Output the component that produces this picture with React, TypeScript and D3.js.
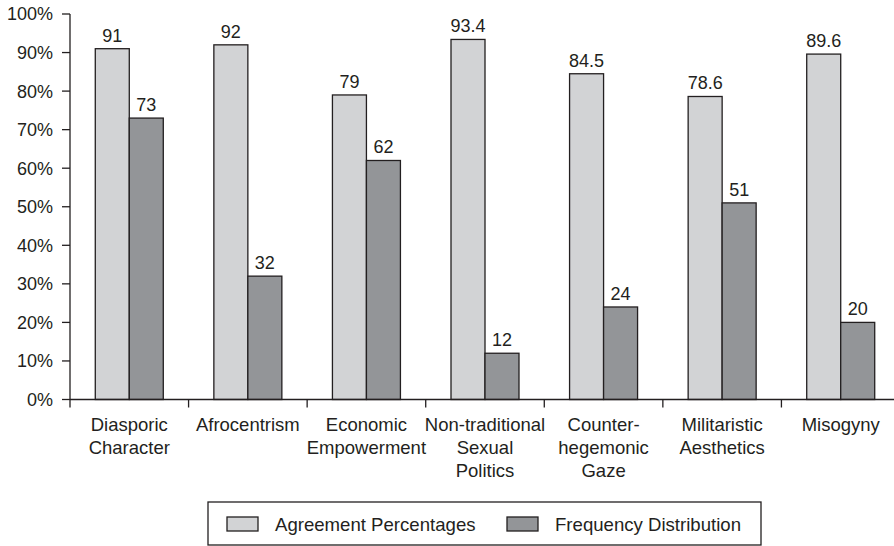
import React from 'react'
import * as d3 from 'd3'

const categories = [
  ['Diasporic', 'Character'],
  ['Afrocentrism'],
  ['Economic', 'Empowerment'],
  ['Non-traditional', 'Sexual', 'Politics'],
  ['Counter-', 'hegemonic', 'Gaze'],
  ['Militaristic', 'Aesthetics'],
  ['Misogyny'],
]
const agreement = ['91', '92', '79', '93.4', '84.5', '78.6', '89.6']
const frequency = ['73', '32', '62', '12', '24', '51', '20']
const seriesNames = ['Agreement Percentages', 'Frequency Distribution']
const seriesColors = ['#d2d3d5', '#939598']
const yTicks = [0, 10, 20, 30, 40, 50, 60, 70, 80, 90, 100]

const W = 894
const H = 546
const ink = '#231f20'
const font = '"Liberation Sans", Arial, Helvetica, sans-serif'

export default function App() {
  const keys = categories.map((c) => c.join(' '))
  const pad = 0.4265
  const x = d3.scaleBand<string>().domain(keys).range([70, 900]).paddingInner(pad).paddingOuter(pad / 2)
  const step = x.step()
  const xs = d3.scaleBand<number>().domain([0, 1]).range([0, x.bandwidth()])
  const y = d3.scaleLinear().domain([0, 100]).range([399.5, 14])

  const series = [agreement, frequency]

  return (
    <svg width={W} height={H} style={{ position: 'absolute', left: 0, top: 0, background: '#fff' }}
      fontFamily={font} fill={ink}>
      {/* y axis */}
      <line x1={70} x2={70} y1={y(100)} y2={y(0)} stroke={ink} strokeWidth={1.3} />
      {yTicks.map((t) => (
        <g key={t}>
          <line x1={62} x2={70} y1={y(t)} y2={y(t)} stroke={ink} strokeWidth={1.3} />
          <text x={53} y={y(t)} dy="0.36em" textAnchor="end" fontSize={18}>{t}%</text>
        </g>
      ))}

      {/* bars */}
      {keys.map((k, i) => (
        <g key={k} transform={`translate(${x(k)},0)`}>
          {series.map((s, j) => {
            const v = +s[i]
            return (
              <g key={j}>
                <rect x={xs(j)} y={y(v)} width={xs.bandwidth()} height={y(0) - y(v)}
                  fill={seriesColors[j]} stroke={ink} strokeWidth={1.3} />
                <text x={xs(j)! + xs.bandwidth() / 2} y={y(v) - 7} textAnchor="middle" fontSize={18}>{s[i]}</text>
              </g>
            )
          })}
        </g>
      ))}

      {/* x axis */}
      <line x1={70} x2={W} y1={y(0)} y2={y(0)} stroke={ink} strokeWidth={1.3} />
      {keys.map((k, i) => (
        <g key={k}>
          <line x1={x(k)! - (step * pad) / 2} x2={x(k)! - (step * pad) / 2} y1={y(0)} y2={y(0) + 8}
            stroke={ink} strokeWidth={1.3} />
          <text x={x(k)! + x.bandwidth() / 2} y={431} textAnchor="middle" fontSize={18.5}>
            {categories[i].map((line, li) => (
              <tspan key={li} x={x(k)! + x.bandwidth() / 2} dy={li === 0 ? 0 : 23}>{line}</tspan>
            ))}
          </text>
        </g>
      ))}

      {/* legend */}
      <rect x={208} y={502} width={553} height={43} fill="#fff" stroke={ink} strokeWidth={1.3} />
      {seriesNames.map((n, j) => {
        const lx = j === 0 ? 227 : 507
        return (
          <g key={n}>
            <rect x={lx} y={517} width={31} height={14} fill={seriesColors[j]} stroke={ink} strokeWidth={1.3} />
            <text x={lx + 48} y={524} dy="0.36em" fontSize={18.6}>{n}</text>
          </g>
        )
      })}
    </svg>
  )
}
